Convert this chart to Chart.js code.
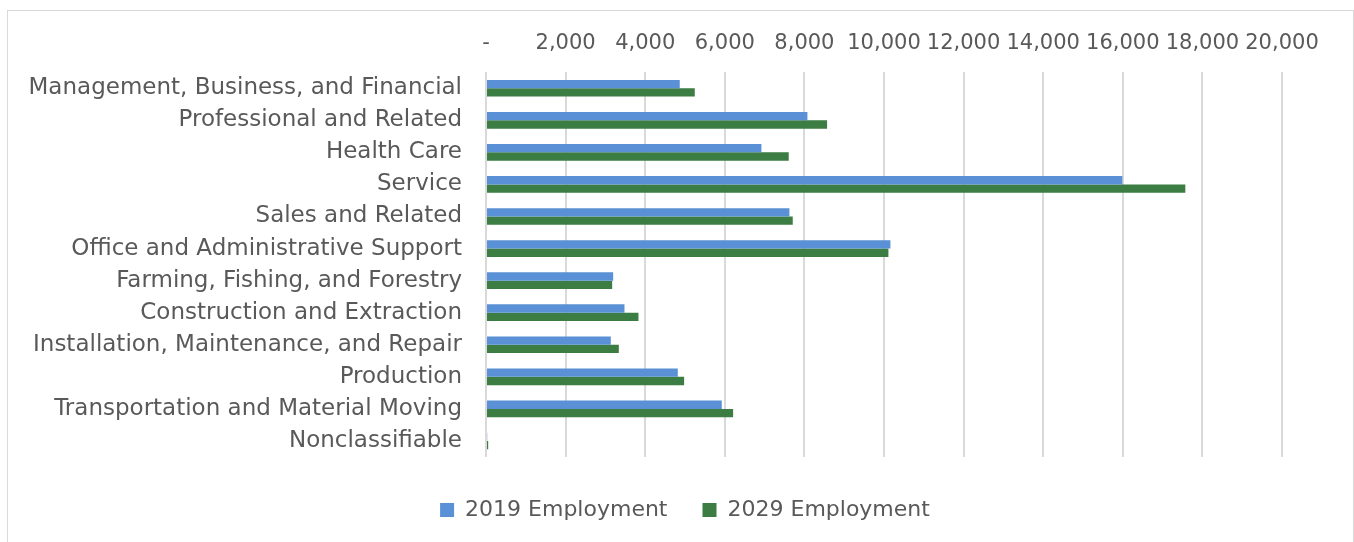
<!DOCTYPE html>
<html>
<head>
<meta charset="utf-8">
<title>Employment by Occupation</title>
<script src="https://cdn.jsdelivr.net/npm/chart.js@4"></script>
<style>
  html, body { margin: 0; padding: 0; background: #fff; overflow: hidden; }
  #frame {
    position: absolute; left: 7px; top: 10px;
    width: 1345px; height: 560px;
    border: 1px solid #d9d9d9;
  }
  #wrap { position: absolute; left: 0; top: 0; width: 1345px; height: 521px; }
</style>
</head>
<body>
<div id="frame">
  <div id="wrap"><canvas id="chart"></canvas></div>
</div>
<script>
const occupations = [
  "Management, Business, and Financial",
  "Professional and Related",
  "Health Care",
  "Service",
  "Sales and Related",
  "Office and Administrative Support",
  "Farming, Fishing, and Forestry",
  "Construction and Extraction",
  "Installation, Maintenance, and Repair",
  "Production",
  "Transportation and Material Moving",
  "Nonclassifiable"
];
const employment2019 = [4868, 8076, 6920, 15989, 7624, 10161, 3195, 3479, 3136, 4819, 5924, 30];
const employment2029 = [5245, 8570, 7606, 17571, 7707, 10111, 3170, 3831, 3337, 4978, 6209, 55];

const textColor = "#595959";
const fontFamily = "'DejaVu Sans', sans-serif";

// centre the legend on the whole frame rather than on the padded layout box
const legendShift = {
  id: "legendShift",
  afterLayout(chart) {
    const lg = chart.legend;
    if (!lg) return;
    lg.left = 40;
    lg.right = chart.width + 40 - 71;
    lg.top += 7;
    lg.bottom += 7;
  }
};

new Chart(document.getElementById("chart").getContext("2d"), {
  type: "bar",
  data: {
    labels: occupations,
    datasets: [
      {
        label: "2019 Employment",
        data: employment2019,
        backgroundColor: "#5990d6",
        categoryPercentage: 0.52,
        barPercentage: 1.0
      },
      {
        label: "2029 Employment",
        data: employment2029,
        backgroundColor: "#3b7d42",
        categoryPercentage: 0.52,
        barPercentage: 1.0
      }
    ]
  },
  plugins: [legendShift],
  options: {
    indexAxis: "y",
    responsive: true,
    maintainAspectRatio: false,
    animation: false,
    layout: { padding: { top: 4, right: 71, bottom: 8, left: 0 } },
    plugins: {
      legend: {
        position: "bottom",
        labels: {
          color: textColor,
          font: { family: fontFamily, size: 22 },
          boxWidth: 14,
          boxHeight: 14,
          padding: 35
        }
      },
      tooltip: { enabled: false }
    },
    scales: {
      x: {
        position: "top",
        min: 0,
        max: 20000,
        border: { display: false },
        grid: { color: "#d9d9d9", lineWidth: 2, drawTicks: false },
        ticks: {
          stepSize: 2000,
          color: textColor,
          padding: 16,
          font: { family: fontFamily, size: 21 },
          callback: (v) => (v === 0 ? "-" : v.toLocaleString("en-US"))
        }
      },
      y: {
        border: { display: false },
        grid: { display: false },
        ticks: {
          color: textColor,
          padding: 16,
          font: { family: fontFamily, size: 23 },
          autoSkip: false
        },
        afterFit: (scale) => { scale.width = 478; }
      }
    }
  }
});
</script>
</body>
</html>
